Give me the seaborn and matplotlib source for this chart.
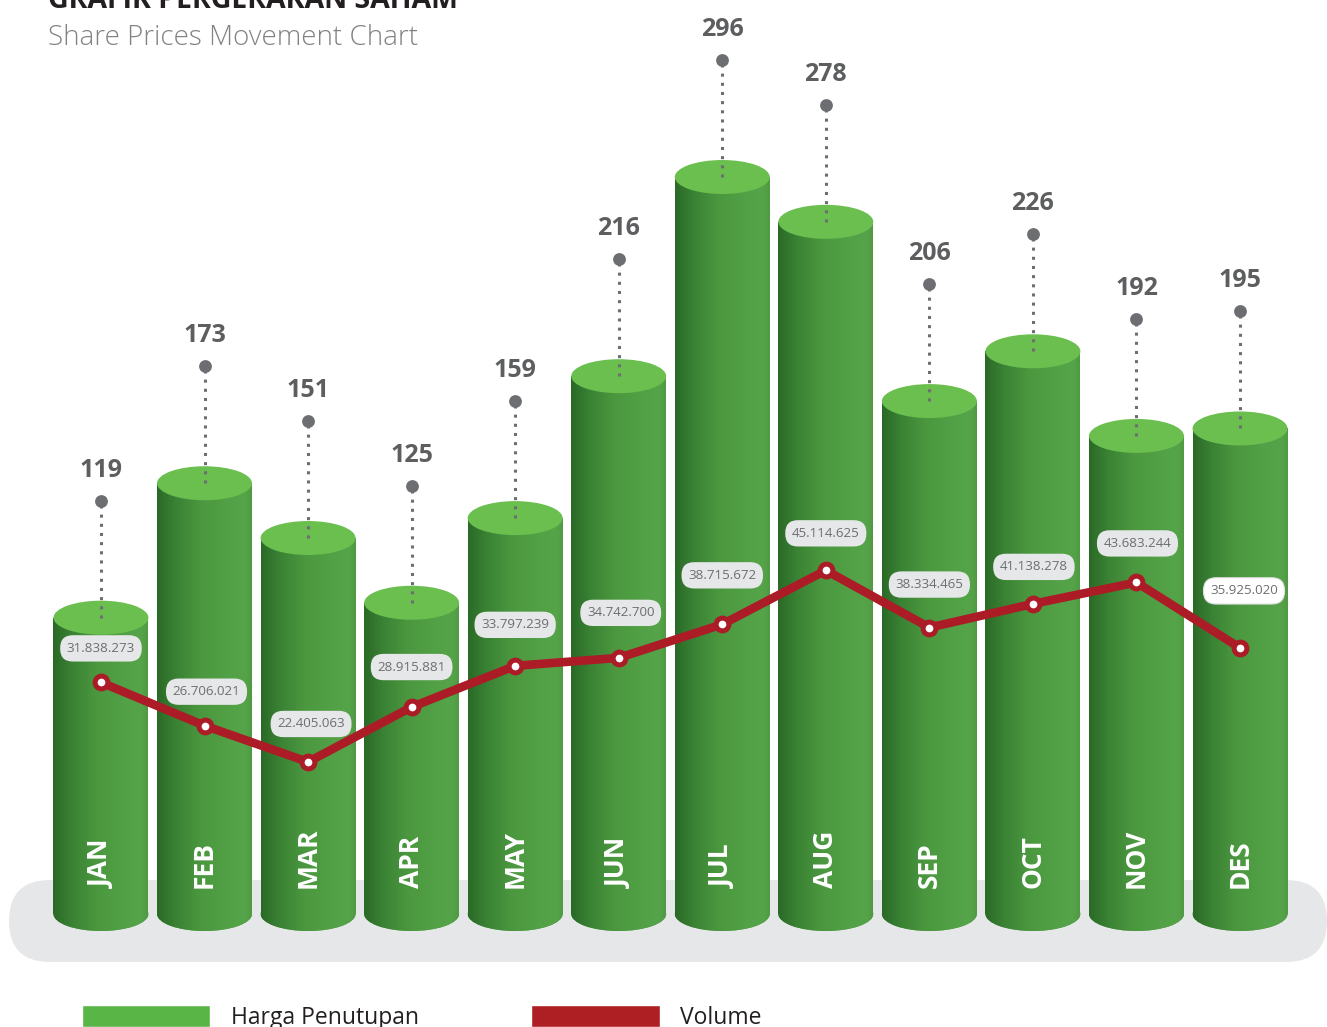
import numpy as np
import pandas as pd
import matplotlib
matplotlib.use('Agg')
import matplotlib.pyplot as plt
import seaborn as sns
from matplotlib.patches import Ellipse, FancyBboxPatch, Patch
from matplotlib.colors import LinearSegmentedColormap

# ---- data ----
months = ['JAN', 'FEB', 'MAR', 'APR', 'MAY', 'JUN', 'JUL', 'AUG', 'SEP', 'OCT', 'NOV', 'DES']
closing_price = [119, 173, 151, 125, 159, 216, 296, 278, 206, 226, 192, 195]
volume = [31838273, 26706021, 22405063, 28915881, 33797239, 34742700,
          38715672, 45114625, 38334465, 41138278, 43683244, 35925020]
title = 'GRAFIK PERGERAKAN SAHAM'
subtitle = 'Share Prices Movement Chart'
legend_labels = ['Harga Penutupan', 'Volume']

# ---- style ----
label_offsets_px = [(0, 34), (2, 34), (3, 38), (0, 40), (0, 41), (2, 45),
                    (0, 49), (0, 37), (0, 43), (1, 37), (1, 39), (4, 57)]
GREEN_TOP = '#6abf4f'
GREEN_LEG = '#5ab547'
RED = '#ab1c27'
GRAY_DOT = '#6d6e71'
GRAY_TXT = '#5d5e60'

sns.set_theme(style='white')
plt.rcParams['font.family'] = ['Open Sans', 'DejaVu Sans']

df = pd.DataFrame({'month': months, 'price': closing_price, 'volume': volume})

W, H = 1327, 1027
fig = plt.figure(figsize=(W / 100, H / 100), dpi=100)
ax = fig.add_axes([0, 0, 1, 1])

XL = (-0.975, 11.84)
YL = (-45.4, 367.1)
px_x = W / (XL[1] - XL[0])
px_y = H / (YL[1] - YL[0])
BAR_W = 0.917
ELL_H = 34 / px_y

# platform
r = 41 / px_x
plat = FancyBboxPatch((-0.888, -19.3), XL[1] - (-0.888), 13.64 + 19.3,
                      boxstyle=f"round,pad=0,rounding_size={r}",
                      mutation_aspect=px_x / px_y,
                      facecolor='#e6e7e8', edgecolor='none', zorder=0)
ax.add_patch(plat)

sns.barplot(data=df, x='month', y='price', ax=ax, width=BAR_W, color='#4c9b41',
            linewidth=0, errorbar=None, zorder=2)

cmap = LinearSegmentedColormap.from_list('cyl', [
    (0.0, '#2a6a27'), (0.2, '#3a8234'), (0.45, '#4a973f'),
    (0.75, '#53a146'), (0.93, '#56a449'), (1.0, '#4f9a43')])
grad = np.linspace(0, 1, 256).reshape(1, -1)

bars = [p for p in ax.patches if p is not plat]
for p in bars:
    x0 = p.get_x()
    w = p.get_width()
    h = p.get_height()
    xc = x0 + w / 2
    bottom = Ellipse((xc, 0), w, ELL_H, facecolor='#4c9b41', edgecolor='none', zorder=2)
    ax.add_patch(bottom)
    for clip in (p, bottom):
        im = ax.imshow(grad, cmap=cmap, extent=[x0, x0 + w, -ELL_H, h],
                       aspect='auto', interpolation='bilinear', zorder=2.5)
        im.set_clip_path(clip)
    top = Ellipse((xc, h), w, ELL_H, facecolor=GREEN_TOP, edgecolor='none', zorder=3)
    ax.add_patch(top)

DOT_OFF = 117 / px_y
xs = np.arange(len(months))
prices = np.array(closing_price)
ax.vlines(xs, prices, prices + DOT_OFF, colors=GRAY_DOT, linewidth=2.2,
          linestyles=(0, (1, 2)), zorder=4)
ax.scatter(xs, prices + DOT_OFF, s=85, color=GRAY_DOT, zorder=5, linewidths=0)
for i, v in enumerate(closing_price):
    ax.annotate(str(v), (i, v + DOT_OFF), xytext=(0, 24), textcoords='offset pixels',
                ha='center', va='baseline', fontsize=18, fontweight='bold',
                color=GRAY_TXT, zorder=6)
    ax.text(i, 10.4, months[i], rotation=90, ha='center', va='bottom',
            fontsize=19, fontweight='bold', color='white', zorder=6)

ax.set_xlim(XL)
ax.set_ylim(YL)
ax.axis('off')

# volume line
ax2 = ax.twinx()
ax2.set_ylim(-9.0e6, 112.7e6)
sns.lineplot(x=xs, y=df['volume'].values, ax=ax2, color=RED, linewidth=6.2,
             marker='o', markersize=9.2, markerfacecolor='white',
             markeredgecolor=RED, markeredgewidth=3.6, zorder=7)
for i, v in enumerate(volume):
    txt = f"{v:,}".replace(',', '.')
    dx, dy = label_offsets_px[i]
    last = i == len(volume) - 1
    ax2.annotate(txt, (i, v), xytext=(dx, dy), textcoords='offset pixels',
                 ha='center', va='center', fontsize=9.6, color=GRAY_DOT, zorder=8,
                 bbox=dict(boxstyle='round,pad=0.5,rounding_size=0.95',
                           facecolor='white' if last else '#e6e7e8',
                           edgecolor='#dcdddf' if last else 'none', linewidth=0.8))
ax2.set_xlim(XL)
ax2.axis('off')

# legend
handles = [Patch(facecolor=GREEN_LEG, label=legend_labels[0]),
           Patch(facecolor='#ae1f24', label=legend_labels[1])]
leg = ax2.legend(handles=handles, loc='upper left', bbox_to_anchor=(82 / W, 1 - 1005 / H),
                 bbox_transform=fig.transFigure, ncol=2, frameon=False, fontsize=16.5,
                 handlelength=5.6, handleheight=1.1, handletextpad=0.9,
                 columnspacing=4.9, borderpad=0, borderaxespad=0)
for t in leg.get_texts():
    t.set_color('#231f20')

# titles
fig.text(48 / W, 1 - 8 / H, title, ha='left', va='baseline', fontsize=20.5,
         fontweight='bold', color='#231f20')
fig.text(48 / W, 1 - 45 / H, subtitle, ha='left', va='baseline', fontsize=20,
         fontweight='light', color='#808285')

fig.savefig('out.png', dpi=100)
